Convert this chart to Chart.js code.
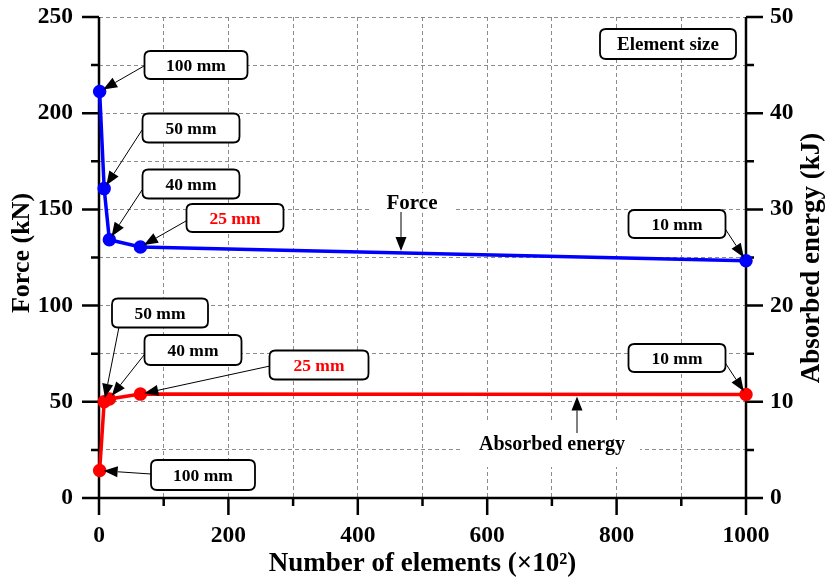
<!DOCTYPE html>
<html><head><meta charset="utf-8">
<script src="https://cdn.jsdelivr.net/npm/chart.js@4.4.1/dist/chart.umd.min.js"></script>
<style>html,body{margin:0;padding:0;background:#fff;}#wrap{width:828px;height:580px;}</style>
</head><body><div id="wrap"><canvas id="c" width="828" height="580"></canvas></div>
<script>
// ---- data ----
const elementCounts = [1, 8, 16, 64, 1000];           // x (x10^2)
const elementSizes  = ['100 mm', '50 mm', '40 mm', '25 mm', '10 mm'];
const forceValues   = [211.3, 160.8, 134.2, 130.5, 123.3];   // kN
const energyValues  = [2.85, 10.0, 10.3, 10.8, 10.75];       // kJ
const xTickLabels      = [0, 200, 400, 600, 800, 1000];
const forceTickLabels  = [0, 50, 100, 150, 200, 250];
const energyTickLabels = [0, 10, 20, 30, 40, 50];

const FONT = "'Liberation Serif', 'Times New Roman', serif";

// ---- callout layout (pixels) ----
const callouts = [
  {ds:0, i:0, cx:196, cy:65,  w:103, h:28, sx:144, sy:66},
  {ds:0, i:1, cx:191, cy:128, w:97,  h:29, sx:142, sy:130},
  {ds:0, i:2, cx:191, cy:184, w:97,  h:29, sx:142, sy:190},
  {ds:0, i:3, cx:235, cy:218, w:97,  h:28, sx:186, sy:221, red:true},
  {ds:0, i:4, cx:677, cy:224, w:97,  h:28, sx:724, sy:227},
  {ds:1, i:0, cx:203, cy:475, w:104, h:30, sx:151, sy:474},
  {ds:1, i:1, cx:160, cy:313, w:96,  h:29, sx:119, sy:327},
  {ds:1, i:2, cx:193, cy:350, w:97,  h:30, sx:144, sy:355},
  {ds:1, i:3, cx:319, cy:365, w:99,  h:29, sx:270, sy:366, red:true},
  {ds:1, i:4, cx:677, cy:358, w:97,  h:28, sx:724, sy:361}
];

function rrect(ctx, x, y, w, h, r) {
  ctx.beginPath();
  ctx.moveTo(x + r, y);
  ctx.lineTo(x + w - r, y); ctx.quadraticCurveTo(x + w, y, x + w, y + r);
  ctx.lineTo(x + w, y + h - r); ctx.quadraticCurveTo(x + w, y + h, x + w - r, y + h);
  ctx.lineTo(x + r, y + h); ctx.quadraticCurveTo(x, y + h, x, y + h - r);
  ctx.lineTo(x, y + r); ctx.quadraticCurveTo(x, y, x + r, y);
  ctx.closePath();
}
function arrow(ctx, sx, sy, tx, ty) {
  const a = Math.atan2(ty - sy, tx - sx);
  const L = 14, W = 5.5;
  const bx = tx - L * Math.cos(a), by = ty - L * Math.sin(a);
  ctx.strokeStyle = '#000'; ctx.fillStyle = '#000'; ctx.lineWidth = 1;
  ctx.beginPath(); ctx.moveTo(sx, sy); ctx.lineTo(bx, by); ctx.stroke();
  ctx.beginPath(); ctx.moveTo(tx, ty);
  ctx.lineTo(bx - W * Math.sin(a), by + W * Math.cos(a));
  ctx.lineTo(bx + W * Math.sin(a), by - W * Math.cos(a));
  ctx.closePath(); ctx.fill();
}
function box(ctx, cx, cy, w, h, text, color, size) {
  ctx.save();
  rrect(ctx, cx - w / 2, cy - h / 2, w, h, 6);
  ctx.fillStyle = '#fff'; ctx.fill();
  ctx.lineWidth = 1.8; ctx.strokeStyle = '#000'; ctx.stroke();
  ctx.fillStyle = color; ctx.font = 'bold ' + size + 'px ' + FONT;
  ctx.textAlign = 'center'; ctx.textBaseline = 'middle';
  ctx.fillText(text, cx, cy + 1);
  ctx.restore();
}
function lineYAt(meta, px) {
  const pts = meta.data;
  for (let k = 0; k < pts.length - 1; k++) {
    const a = pts[k], b = pts[k + 1];
    if (px >= a.x && px <= b.x) return a.y + (b.y - a.y) * (px - a.x) / (b.x - a.x);
  }
  return pts[pts.length - 1].y;
}

const axesPlugin = {
  id: 'axesPlugin',
  beforeDatasetsDraw(chart) {
    const ctx = chart.ctx, ca = chart.chartArea;
    const xs = chart.scales.x, yl = chart.scales.y, yr = chart.scales.y1;
    ctx.save();
    ctx.strokeStyle = '#000'; ctx.lineWidth = 2.5; ctx.lineCap = 'butt';
    ctx.beginPath();
    ctx.moveTo(ca.left, ca.top); ctx.lineTo(ca.left, ca.bottom);
    ctx.moveTo(ca.right, ca.top); ctx.lineTo(ca.right, ca.bottom);
    ctx.moveTo(ca.left, ca.bottom); ctx.lineTo(ca.right, ca.bottom);
    ctx.stroke();
    ctx.beginPath();
    for (let v = 0; v <= 1000; v += 100) {
      const p = xs.getPixelForValue(v), L = xTickLabels.includes(v) ? 17 : 8;
      ctx.moveTo(p, ca.bottom); ctx.lineTo(p, ca.bottom + L);
    }
    for (let v = 0; v <= 250; v += 25) {
      const p = yl.getPixelForValue(v), L = forceTickLabels.includes(v) ? 17 : 8;
      ctx.moveTo(ca.left, p); ctx.lineTo(ca.left - L, p);
    }
    for (let v = 0; v <= 50; v += 5) {
      const p = yr.getPixelForValue(v), L = energyTickLabels.includes(v) ? 17 : 8;
      ctx.moveTo(ca.right, p); ctx.lineTo(ca.right + L, p);
    }
    ctx.stroke();
    ctx.restore();
  },
  afterDatasetsDraw(chart) {
    const ctx = chart.ctx;
    ctx.save();
    const fMeta = chart.getDatasetMeta(0), eMeta = chart.getDatasetMeta(1);
    ctx.fillStyle = '#fff';
    ctx.fillRect(370, 193, 85, 20);
    ctx.fillStyle = '#000'; ctx.font = 'bold 21px ' + FONT;
    ctx.textAlign = 'center'; ctx.textBaseline = 'middle';
    ctx.fillText('Force', 412, 204);
    arrow(ctx, 401, 212, 401, lineYAt(fMeta, 401) - 2);
    ctx.fillStyle = '#fff';
    ctx.fillRect(462, 423, 178, 44);
    ctx.fillStyle = '#000'; ctx.font = 'bold 20px ' + FONT;
    ctx.fillText('Absorbed energy', 552, 445);
    arrow(ctx, 577, 433, 577, lineYAt(eMeta, 577) + 2);
    box(ctx, 668, 44, 136, 30, 'Element size', '#000', 19);
    callouts.forEach(c => {
      const pt = chart.getDatasetMeta(c.ds).data[c.i];
      const a = Math.atan2(pt.y - c.sy, pt.x - c.sx);
      arrow(ctx, c.sx, c.sy, pt.x - 4 * Math.cos(a), pt.y - 4 * Math.sin(a));
      box(ctx, c.cx, c.cy, c.w, c.h, elementSizes[c.i], c.red ? '#ff0000' : '#000', 17.5);
    });
    ctx.restore();
  },
  afterDraw(chart) {
    const ctx = chart.ctx, ca = chart.chartArea;
    ctx.save();
    ctx.fillStyle = '#000';
    ctx.textAlign = 'center'; ctx.textBaseline = 'middle';
    ctx.font = 'bold 27px ' + FONT;
    ctx.fillText('Number of elements (\u00D710\u00B2)', (ca.left + ca.right) / 2, 564);
    ctx.font = 'bold 26px ' + FONT;
    ctx.save(); ctx.translate(22, 253); ctx.rotate(-Math.PI / 2);
    ctx.fillText('Force (kN)', 0, 0); ctx.restore();
    ctx.font = 'bold 27px ' + FONT;
    ctx.save(); ctx.translate(812, 258); ctx.rotate(-Math.PI / 2);
    ctx.fillText('Absorbed energy (kJ)', 0, 0); ctx.restore();
    ctx.restore();
  }
};

const tickFont = {family: FONT, size: 23.5, weight: 'bold'};
const gridCommon = {color: '#8c8c8c', lineWidth: 1, drawTicks: false};
function zeroPad(s) { s.paddingTop = 0; s.paddingBottom = 0; s.paddingLeft = 0; s.paddingRight = 0; }

new Chart(document.getElementById('c'), {
  type: 'line',
  data: {
    datasets: [
      {
        label: 'Force',
        data: elementCounts.map((x, k) => ({x, y: forceValues[k]})),
        yAxisID: 'y', borderColor: '#0000ff', backgroundColor: '#0000ff',
        borderWidth: 3.5, pointRadius: 5, pointHoverRadius: 5, tension: 0, clip: false
      },
      {
        label: 'Absorbed energy',
        data: elementCounts.map((x, k) => ({x, y: energyValues[k]})),
        yAxisID: 'y1', borderColor: '#ff0000', backgroundColor: '#ff0000',
        borderWidth: 3.5, pointRadius: 5, pointHoverRadius: 5, tension: 0, clip: false
      }
    ]
  },
  options: {
    responsive: false, animation: false, devicePixelRatio: 1,
    layout: {padding: {top: 17, left: 0, right: 0, bottom: 0}},
    plugins: {legend: {display: false}, tooltip: {enabled: false}},
    scales: {
      x: {
        type: 'linear', position: 'bottom', min: 0, max: 1000,
        afterFit: s => { s.height = 82; zeroPad(s); },
        grid: gridCommon, border: {display: false, dash: [4, 3]},
        ticks: {stepSize: 100, autoSkip: false, maxRotation: 0, padding: 24, color: '#000', font: tickFont,
          callback: v => xTickLabels.includes(v) ? String(v) : ''}
      },
      y: {
        type: 'linear', position: 'left', min: 0, max: 250,
        afterFit: s => { s.width = 99; zeroPad(s); },
        grid: gridCommon, border: {display: false, dash: [4, 3]},
        ticks: {stepSize: 25, autoSkip: false, padding: 26, color: '#000', font: tickFont,
          callback: v => forceTickLabels.includes(v) ? String(v) : ''}
      },
      y1: {
        type: 'linear', position: 'right', min: 0, max: 50,
        afterFit: s => { s.width = 82; zeroPad(s); },
        grid: {drawOnChartArea: false, drawTicks: false}, border: {display: false},
        ticks: {stepSize: 5, autoSkip: false, padding: 24, color: '#000', font: tickFont,
          callback: v => energyTickLabels.includes(v) ? String(v) : ''}
      }
    }
  },
  plugins: [axesPlugin]
});
</script></body></html>
